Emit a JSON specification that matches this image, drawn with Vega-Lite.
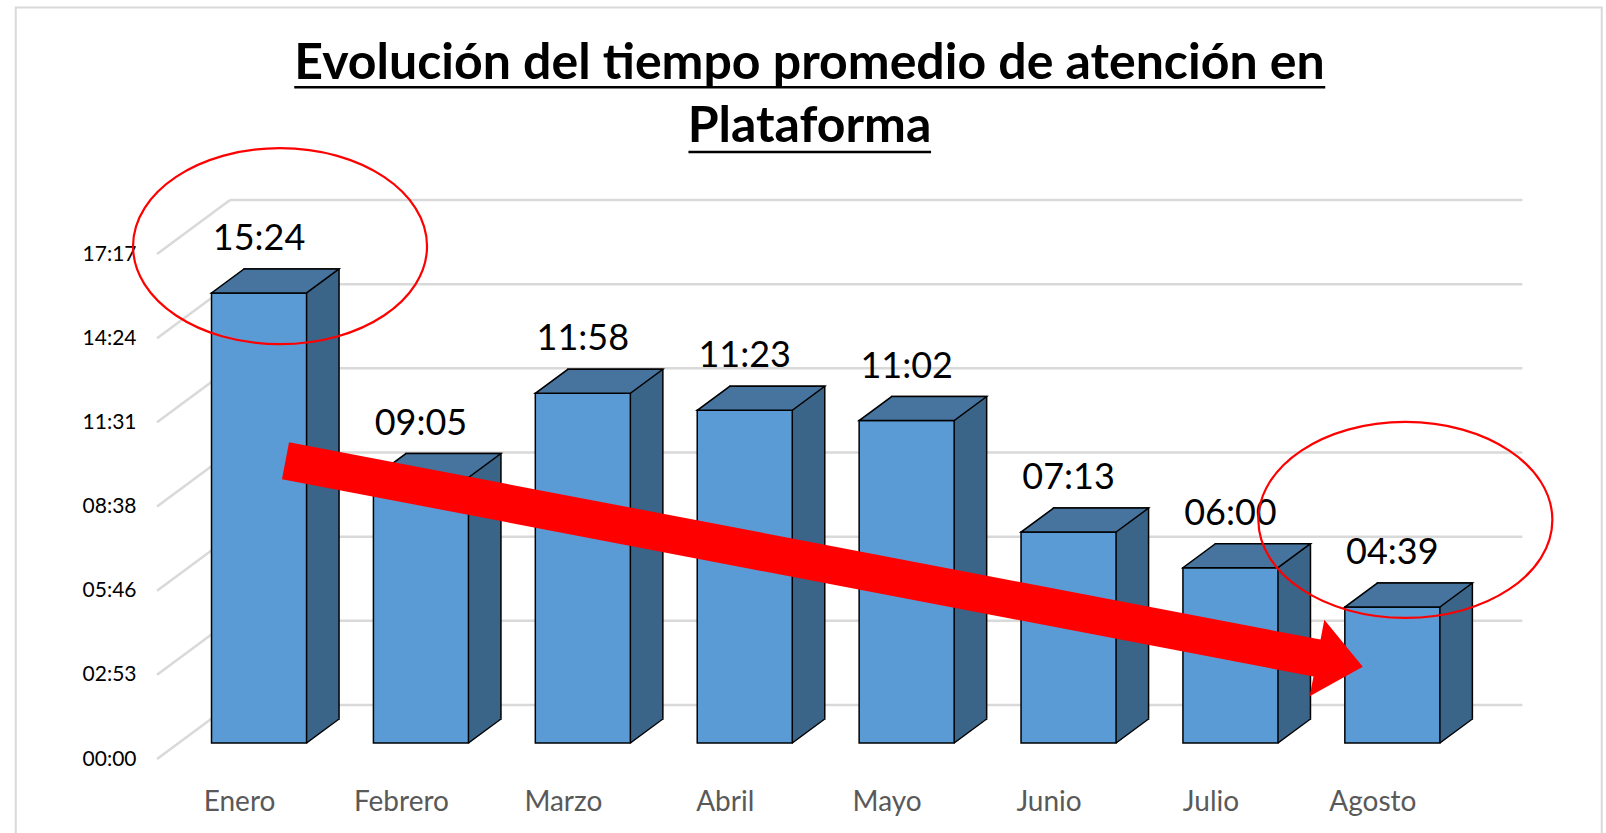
{
  "$schema": "https://vega.github.io/schema/vega-lite/v6.json",
  "width": 1365,
  "height": 505,
  "autosize": {"type": "none"},
  "padding": {"left": 157, "top": 238, "right": 84, "bottom": 90},
  "background": "white",
  "config": {"view": {"stroke": null}},
  "title": {
    "text": ["Evolución del tiempo promedio de atención en", "Plataforma"],
    "font": "Lato",
    "fontSize": 50,
    "fontWeight": "bold",
    "color": "#000000",
    "anchor": "middle",
    "baseline": "alphabetic",
    "dx": -30,
    "dy": 188.5,
    "lineHeight": 63,
    "offset": 0
  },
  "datasets": {
    "main": [
      {"mes": "Enero", "t": 924, "lbl": "15:24"},
      {"mes": "Febrero", "t": 545, "lbl": "09:05"},
      {"mes": "Marzo", "t": 718, "lbl": "11:58"},
      {"mes": "Abril", "t": 683, "lbl": "11:23"},
      {"mes": "Mayo", "t": 662, "lbl": "11:02"},
      {"mes": "Junio", "t": 433, "lbl": "07:13"},
      {"mes": "Julio", "t": 360, "lbl": "06:00"},
      {"mes": "Agosto", "t": 279, "lbl": "04:39"}
    ],
    "grid": [{"g": 0}, {"g": 172.8}, {"g": 345.6}, {"g": 518.4}, {"g": 691.2}, {"g": 864}, {"g": 1036.8}],
    "one": [{"k": 1}]
  },
  "data": {"name": "main"},
  "layer": [
    {
      "data": {"name": "grid"},
      "mark": {"type": "rule", "color": "#d9d9d9", "strokeWidth": 2.5, "yOffset": -38, "y2Offset": -38, "xOffset": -29, "x2Offset": 130},
      "encoding": {
        "x": {"datum": "Enero", "type": "nominal", "title": null, "scale": {"type": "band", "domain": ["Enero", "Febrero", "Marzo", "Abril", "Mayo", "Junio", "Julio", "Agosto"], "paddingInner": 0.413, "paddingOuter": 0.422, "align": 0.399}},
        "x2": {"datum": "Agosto"},
        "y": {"field": "g", "type": "quantitative", "title": null, "scale": {"domain": [0, 1036.8], "nice": false, "zero": true}},
        "y2": {"field": "g"}
      }
    },
    {
      "data": {"name": "grid"},
      "mark": {"type": "rule", "color": "#d9d9d9", "strokeWidth": 2.5, "yOffset": 16, "y2Offset": -38, "xOffset": -102, "x2Offset": -29},
      "encoding": {
        "x": {"datum": "Enero", "type": "nominal", "title": null},
        "x2": {"datum": "Enero"},
        "y": {"field": "g", "type": "quantitative", "title": null},
        "y2": {"field": "g"}
      }
    },
    {
      "mark": {"type": "bar", "fill": "#3a6488", "stroke": "#000000", "strokeWidth": 1.5, "xOffset": 32.5, "yOffset": -24, "y2Offset": -24},
      "encoding": {
        "x": {"field": "mes", "type": "nominal", "title": null},
        "y": {"field": "t", "type": "quantitative", "title": null}
      }
    },
    {
      "mark": {"type": "point", "filled": true, "opacity": 1, "fill": "#3a6488", "size": 4, "shape": "M47.5,0.5L47.5,-25L80.5,-25Z"},
      "encoding": {
        "x": {"field": "mes", "type": "nominal", "title": null},
        "y": {"datum": 0, "type": "quantitative", "title": null}
      }
    },
    {
      "mark": {"type": "point", "filled": false, "opacity": 1, "stroke": "#000000", "strokeWidth": 1.5, "size": 4, "shape": "M47.5,0L80,-24"},
      "encoding": {
        "x": {"field": "mes", "type": "nominal", "title": null},
        "y": {"datum": 0, "type": "quantitative", "title": null}
      }
    },
    {
      "mark": {"type": "bar", "fill": "#5b9bd5", "stroke": "#000000", "strokeWidth": 1.5},
      "encoding": {
        "x": {"field": "mes", "type": "nominal", "title": null,
          "axis": {"title": null, "domain": false, "ticks": false, "labelAngle": 0, "labelAlign": "center", "labelOffset": -19.5, "labelPadding": 59, "labelFont": "Lato", "labelFontSize": 28, "labelColor": "#595959", "grid": false}},
        "y": {"field": "t", "type": "quantitative", "title": null,
          "axis": {"title": null, "values": [0, 172.8, 345.6, 518.4, 691.2, 864, 1036.8], "labelExpr": "format(floor(round(datum.value)/60),'02d') + ':' + format(round(datum.value)%60,'02d')", "domain": false, "ticks": false, "grid": false, "labelPadding": 21, "labelOffset": 16, "labelFont": "Lato", "labelFontSize": 21, "labelColor": "#000000"}}
      }
    },
    {
      "mark": {"type": "point", "filled": true, "opacity": 1, "fill": "#46749f", "stroke": "#000000", "strokeWidth": 1.5, "size": 4, "shape": "M-47.5,0L47.5,0L80,-24L-15,-24Z"},
      "encoding": {
        "x": {"field": "mes", "type": "nominal", "title": null},
        "y": {"field": "t", "type": "quantitative", "title": null}
      }
    },
    {
      "mark": {"type": "text", "font": "Lato", "fontSize": 36, "color": "#000000", "baseline": "middle", "align": "center", "yOffset": -54},
      "encoding": {
        "x": {"field": "mes", "type": "nominal", "title": null},
        "y": {"field": "t", "type": "quantitative", "title": null},
        "text": {"field": "lbl"}
      }
    },
    {
      "data": {"name": "one"},
      "mark": {"type": "point", "filled": true, "opacity": 1, "fill": "#ff0000", "size": 4, "angle": 10.83, "xOffset": 79.4,
        "shape": "M-548.4,-18.8L501.8,-18.8L501.8,-39L548.4,0L501.8,39L501.8,18.8L-548.4,18.8Z"},
      "encoding": {
        "x": {"datum": "Abril", "type": "nominal", "title": null},
        "y": {"datum": 368, "type": "quantitative", "title": null}
      }
    },
    {
      "data": {"name": "one"},
      "mark": {"type": "point", "filled": false, "opacity": 1, "stroke": "#ff0000", "strokeWidth": 2.2, "size": 4, "xOffset": 21,
        "shape": "M-147,0C-147,-54.1,-81.2,-98,0,-98C81.2,-98,147,-54.1,147,0C147,54.1,81.2,98,0,98C-81.2,98,-147,54.1,-147,0Z"},
      "encoding": {
        "x": {"datum": "Enero", "type": "nominal", "title": null},
        "y": {"datum": 1020, "type": "quantitative", "title": null}
      }
    },
    {
      "data": {"name": "one"},
      "mark": {"type": "point", "filled": false, "opacity": 1, "stroke": "#ff0000", "strokeWidth": 2.2, "size": 4, "xOffset": 13,
        "shape": "M-147,0C-147,-54.1,-81.2,-98,0,-98C81.2,-98,147,-54.1,147,0C147,54.1,81.2,98,0,98C-81.2,98,-147,54.1,-147,0Z"},
      "encoding": {
        "x": {"datum": "Agosto", "type": "nominal", "title": null},
        "y": {"datum": 458, "type": "quantitative", "title": null}
      }
    },
    {
      "data": {"name": "one"},
      "mark": {"type": "point", "filled": false, "opacity": 1, "stroke": "#000000", "strokeWidth": 2.6, "size": 4, "xOffset": 65,
        "shape": "M-515.5,-150.8L515.5,-150.8M-121.3,-86L121.3,-86"},
      "encoding": {
        "x": {"datum": "Abril", "type": "nominal", "title": null},
        "y": {"datum": 1036.8, "type": "quantitative", "title": null}
      }
    },
    {
      "data": {"name": "one"},
      "mark": {"type": "point", "filled": false, "opacity": 1, "stroke": "#d9d9d9", "strokeWidth": 2, "size": 4, "xOffset": 65,
        "shape": "M-794,610L-794,-230.5L792,-230.5L792,610"},
      "encoding": {
        "x": {"datum": "Abril", "type": "nominal", "title": null},
        "y": {"datum": 1036.8, "type": "quantitative", "title": null}
      }
    }
  ]
}
